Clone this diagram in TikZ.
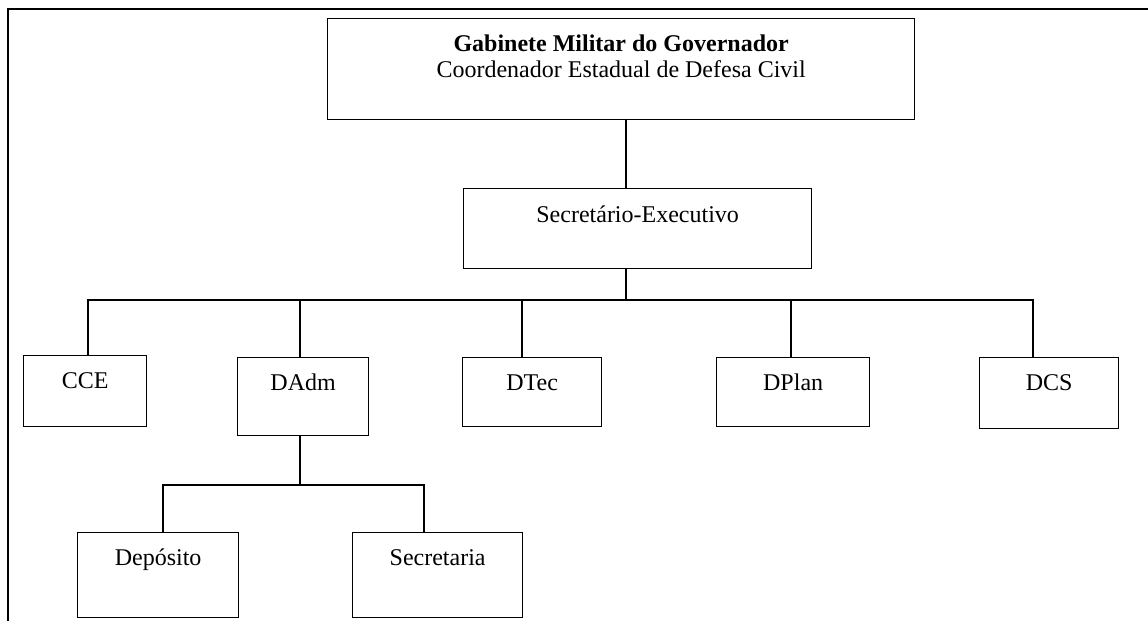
\documentclass[tikz,border=0pt]{standalone}
\usepackage{fontspec}
\setmainfont{Liberation Serif}
\begin{document}
\begin{tikzpicture}[x=1pt, y=-1pt, font=\fontsize{24}{26}\selectfont,
  unit/.style={draw, line width=1.3pt, inner sep=0pt, anchor=north west},
  link/.style={line width=1.1pt, line join=miter},
  frame/.style={line width=2.4pt, line join=miter}]
\useasboundingbox (0,0) rectangle (1148,621);

% page frame (left and top edges)
\draw[frame] (8,621) -- (8,9) -- (1148,9);

% boxes
\node[unit, minimum width=587, text height=33, text depth=68] (gov) at (327,18)
  {\begin{tabular}[t]{@{}c@{}}\textbf{Gabinete Militar do Governador}\\Coordenador Estadual de Defesa Civil\end{tabular}};
\node[unit, minimum width=348, text height=34, text depth=46] (sec) at (463,188) {Secretário-Executivo};
\node[unit, minimum width=123, text height=33, text depth=38] (cce) at (23,355) {CCE};
\node[unit, minimum width=131, text height=33, text depth=45] (dadm) at (237,357) {DAdm};
\node[unit, minimum width=139, text height=33, text depth=36] (dtec) at (462,357) {DTec};
\node[unit, minimum width=153, text height=33, text depth=36] (dplan) at (716,357) {DPlan};
\node[unit, minimum width=139, text height=33, text depth=38] (dcs) at (979,357) {DCS};
\node[unit, minimum width=161, text height=33, text depth=52] (dep) at (77,532) {Depósito};
\node[unit, minimum width=170, text height=33, text depth=52] (secr) at (352,532) {Secretaria};

% bus points
\coordinate (top) at (626,300);
\coordinate (b1) at (88,300);
\coordinate (b2) at (300,300);
\coordinate (b3) at (522,300);
\coordinate (b4) at (791,300);
\coordinate (b5) at (1033,300);
\coordinate (sub) at (300,485);
\coordinate (s1) at (163,485);
\coordinate (s2) at (424,485);

% connectors
\draw[link] (top |- gov.south) -- (top |- sec.north);
\draw[link] (top |- sec.south) -- (top);
\draw[link] (b1 |- cce.north) -- (b1) -- (b5) -- (b5 |- dcs.north);
\draw[link] (b2) -- (b2 |- dadm.north);
\draw[link] (b3) -- (b3 |- dtec.north);
\draw[link] (b4) -- (b4 |- dplan.north);
\draw[link] (sub |- dadm.south) -- (sub);
\draw[link] (s1 |- dep.north) -- (s1) -- (s2) -- (s2 |- secr.north);
\end{tikzpicture}
\end{document}
